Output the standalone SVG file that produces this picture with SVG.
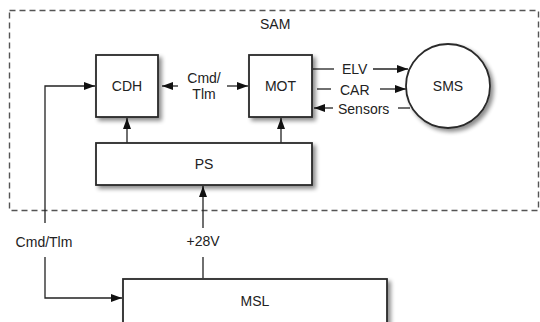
<svg xmlns="http://www.w3.org/2000/svg" width="540" height="322" viewBox="0 0 540 322">
<style>
.box{fill:#fff;stroke:#2a2a2a;stroke-width:1.8;filter:url(#sh)}
.t{font-family:"Liberation Sans",Arial,sans-serif;font-size:14px;fill:#222}
.c{text-anchor:middle}
.ln{stroke:#222;stroke-width:1.3;fill:none}
.arr{marker-end:url(#ah)}
</style>
<defs>
<filter id="sh" x="-20%" y="-20%" width="150%" height="150%">
<feGaussianBlur in="SourceAlpha" stdDeviation="2"/>
<feOffset dx="3" dy="3" result="b"/>
<feComponentTransfer><feFuncA type="linear" slope="0.45"/></feComponentTransfer>
<feMerge><feMergeNode/><feMergeNode in="SourceGraphic"/></feMerge>
</filter>
<marker id="ah" markerWidth="11" markerHeight="8" refX="11" refY="4" orient="auto" markerUnits="userSpaceOnUse">
<path d="M0,0 L11,4 L0,8 Z" fill="#111"/>
</marker>
</defs>
<rect width="540" height="322" fill="#fff"/>
<g id="SAM">
<rect x="9.5" y="10.5" width="529" height="200" fill="none" stroke="#555" stroke-width="1.4" stroke-dasharray="6,4"/>
<text class="t" x="260" y="29">SAM</text>
</g>
<g id="connectors">
<line class="ln arr" x1="178" y1="86" x2="162" y2="86"/>
<line class="ln arr" x1="227" y1="86" x2="248" y2="86"/>
<text class="t c" x="204" y="83">Cmd/</text>
<text class="t c" x="204" y="99">Tlm</text>
<line class="ln" x1="313" y1="69" x2="334" y2="69"/>
<text class="t" x="342" y="74">ELV</text>
<line class="ln arr" x1="373" y1="69" x2="408" y2="69"/>
<line class="ln" x1="317" y1="89" x2="331" y2="89"/>
<text class="t" x="340" y="95">CAR</text>
<line class="ln arr" x1="380" y1="89" x2="406" y2="89"/>
<line class="ln" x1="398" y1="108" x2="410" y2="108"/>
<text class="t" x="338" y="114">Sensors</text>
<line class="ln arr" x1="333" y1="108" x2="314" y2="108"/>
<line class="ln arr" x1="127" y1="143" x2="127" y2="118"/>
<line class="ln arr" x1="281" y1="143" x2="281" y2="118"/>
<polyline class="ln" points="45,223 45,86 95,86" marker-end="url(#ah)"/>
<text class="t c" x="44" y="247">Cmd/Tlm</text>
<polyline class="ln" points="45,257 45,298 122,298" marker-end="url(#ah)"/>
<line class="ln" x1="203" y1="278" x2="203" y2="257"/>
<text class="t c" x="203" y="246">+28V</text>
<line class="ln arr" x1="203" y1="228" x2="203" y2="186"/>
</g>
<g id="CDH">
<rect class="box" x="96" y="55" width="62" height="62"/>
<text class="t c" x="127" y="91">CDH</text>
</g>
<g id="MOT">
<rect class="box" x="249" y="55" width="63" height="62"/>
<text class="t c" x="280.5" y="91">MOT</text>
</g>
<g id="SMS">
<circle class="box" cx="448" cy="86" r="42"/>
<text class="t c" x="448" y="91">SMS</text>
</g>
<g id="PS">
<rect class="box" x="96" y="143" width="216" height="42"/>
<text class="t c" x="204" y="169">PS</text>
</g>
<g id="MSL">
<rect class="box" x="123" y="279" width="264" height="50"/>
<text class="t c" x="255" y="306">MSL</text>
</g>
</svg>
